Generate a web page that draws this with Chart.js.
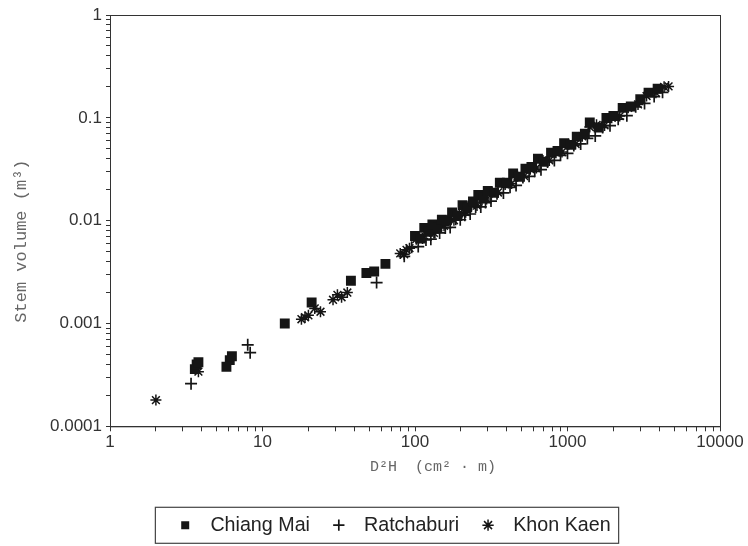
<!DOCTYPE html>
<html lang="en">
<head>
    <meta charset="UTF-8">
    <title>Stem volume vs D2H</title>
    <script src="https://cdn.jsdelivr.net/npm/chart.js"></script>
    <style>
        body {
            margin: 0;
            background-color: #fff;
        }
    </style>
</head>
<body>
    <canvas id="volChart" width="748" height="546"></canvas>
    <script>
        // values (D2H in cm2*m, volume in m3)
        const chiangMaiX = [3.6, 3.7, 3.8, 5.8, 6.1, 6.3, 14, 21, 38, 48, 54, 64,
            100, 108, 115, 122, 130, 140, 150, 162, 175, 190, 205, 220, 240, 260, 280, 300,
            330, 360, 400, 440, 480, 530, 580, 640, 700, 780, 860, 950, 1050, 1150, 1300,
            1400, 1600, 1800, 2000, 2300, 2600, 3000, 3400, 3900];
        const chiangMaiY = [0.00036, 0.0004, 0.00042, 0.00038, 0.00044, 0.00048, 0.001, 0.0016, 0.0026, 0.0031, 0.0032, 0.0038,
            0.0071, 0.0067, 0.0085, 0.0078, 0.0092, 0.0086, 0.0102, 0.0101, 0.0120, 0.0111, 0.0141, 0.0135, 0.0154, 0.0178, 0.0169, 0.0194,
            0.0187, 0.0234, 0.0234, 0.0287, 0.0267, 0.0320, 0.0332, 0.0400, 0.0374, 0.0458, 0.0477, 0.0565, 0.0546, 0.0657, 0.070,
            0.090, 0.0806, 0.0996, 0.104, 0.125, 0.129, 0.152, 0.176, 0.192];

        const ratchaburiX = [3.4, 8.0, 8.3, 56,
            85, 95, 105, 118, 127, 135, 145, 158, 170, 185, 198, 212, 230, 250, 270, 290, 315,
            345, 380, 420, 460, 510, 560, 610, 670, 740, 820, 900, 1000, 1100, 1220, 1350,
            1520, 1700, 1900, 2150, 2450, 2800, 3200, 3700, 4200];
        const ratchaburiY = [0.00026, 0.00062, 0.00052, 0.0025,
            0.0045, 0.0055, 0.0056, 0.0065, 0.0066, 0.0077, 0.0076, 0.0085, 0.0086, 0.0103, 0.0102, 0.0113, 0.0116, 0.0136, 0.0136, 0.0150, 0.0155,
            0.0183, 0.0186, 0.0211, 0.0220, 0.0263, 0.0270, 0.0302, 0.0313, 0.0372, 0.0385, 0.0432, 0.0452, 0.0538, 0.0557, 0.0630,
            0.0667, 0.0805, 0.0839, 0.097, 0.105, 0.128, 0.138, 0.161, 0.177];

        const khonKaenX = [2.0, 3.8, 18, 19, 20, 22, 24, 29, 31, 33, 36, 80, 85, 88,
            92, 102, 112, 125, 133, 142, 155, 166, 180, 195, 215, 235, 255, 275, 295, 320,
            350, 390, 430, 470, 520, 570, 625, 690, 760, 840, 920, 1020, 1130, 1250, 1400,
            1550, 1750, 1950, 2200, 2500, 2900, 3300, 3800, 4300, 4600];
        const khonKaenY = [0.00018, 0.00034, 0.0011, 0.00115, 0.0012, 0.0014, 0.0013, 0.0017, 0.0019, 0.0018, 0.002, 0.0048, 0.0047, 0.0052,
            0.0054, 0.0066, 0.0067, 0.0079, 0.0076, 0.0087, 0.0089, 0.0103, 0.0101, 0.0118, 0.0121, 0.0142, 0.0140, 0.0161, 0.0162, 0.0189,
            0.0188, 0.0225, 0.0230, 0.0270, 0.0271, 0.0317, 0.0325, 0.0385, 0.0385, 0.0458, 0.0465, 0.0553, 0.0557, 0.0662, 0.0813,
            0.0855, 0.0844, 0.100, 0.104, 0.125, 0.135, 0.163, 0.175, 0.200, 0.202];

        const seriesNames = ['Chiang Mai', 'Ratchaburi', 'Khon Kaen'];

        function toPoints(xs, ys) {
            return xs.map((x, i) => ({ x: x, y: ys[i] }));
        }

        // keep only 1..9 x 10^n ticks
        function decadeTicks(scale) {
            scale.ticks = scale.ticks.filter(t => {
                const m = t.value / Math.pow(10, Math.floor(Math.log10(t.value) + 1e-9));
                return Math.abs(m - Math.round(m)) < 1e-6;
            });
        }

        function powerLabel(value) {
            const l = Math.log10(value);
            if (Math.abs(l - Math.round(l)) < 1e-6) {
                return String(Number(value.toPrecision(6)));
            }
            return '';
        }

        // frame round the plot and box round the legend
        const framePlugin = {
            id: 'frame',
            afterLayout(chart) {
                // legend sits a little right of centre in the original
                chart.legend.left += 33;
                chart.legend.right += 33;
            },
            afterDraw(chart) {
                const ctx = chart.ctx;
                const a = chart.chartArea;
                ctx.save();
                ctx.strokeStyle = '#333';
                ctx.lineWidth = 1;
                ctx.strokeRect(a.left + 0.5, a.top + 0.5, a.right - a.left, a.bottom - a.top);

                const hb = chart.legend.legendHitBoxes;
                if (hb && hb.length) {
                    const first = hb[0];
                    const last = hb[hb.length - 1];
                    const left = first.left - 20;
                    const right = last.left + last.width + 8;
                    const top = first.top - 8;
                    ctx.strokeStyle = '#444';
                    ctx.lineWidth = 1.2;
                    ctx.strokeRect(left, top, right - left, 36);
                }
                ctx.restore();
            }
        };

        const dark = '#151515';
        const ctx = document.getElementById('volChart').getContext('2d');
        new Chart(ctx, {
            type: 'scatter',
            data: {
                datasets: [
                    {
                        label: seriesNames[0],
                        data: toPoints(chiangMaiX, chiangMaiY),
                        pointStyle: 'rect',
                        pointRadius: 7,
                        backgroundColor: dark,
                        borderColor: dark,
                        borderWidth: 0
                    },
                    {
                        label: seriesNames[1],
                        data: toPoints(ratchaburiX, ratchaburiY),
                        pointStyle: 'cross',
                        pointRadius: 6,
                        backgroundColor: dark,
                        borderColor: dark,
                        borderWidth: 1.7
                    },
                    {
                        label: seriesNames[2],
                        data: toPoints(khonKaenX, khonKaenY),
                        pointStyle: 'star',
                        pointRadius: 5.5,
                        backgroundColor: dark,
                        borderColor: dark,
                        borderWidth: 1.5
                    }
                ]
            },
            options: {
                responsive: false,
                animation: false,
                layout: {
                    padding: { top: 15, right: 28, bottom: 1, left: 0 }
                },
                scales: {
                    x: {
                        type: 'logarithmic',
                        min: 1,
                        max: 10000,
                        afterBuildTicks: decadeTicks,
                        afterFit(scale) { scale.height = 70; },
                        grid: { drawOnChartArea: false, tickLength: 5, color: '#333' },
                        border: { color: '#333' },
                        ticks: {
                            autoSkip: false,
                            maxRotation: 0,
                            padding: 1,
                            color: '#333',
                            font: { family: 'Liberation Sans', size: 17 },
                            callback: powerLabel
                        },
                        title: {
                            display: true,
                            text: '    D\u00b2H  (cm\u00b2 \u00b7 m)',
                            color: '#666',
                            font: { family: 'Liberation Mono', size: 15 },
                            padding: { top: 0, bottom: 20 }
                        }
                    },
                    y: {
                        type: 'logarithmic',
                        min: 0.0001,
                        max: 1,
                        afterBuildTicks: decadeTicks,
                        afterFit(scale) { scale.width = 110; },
                        grid: { drawOnChartArea: false, tickLength: 4, color: '#333' },
                        border: { color: '#333' },
                        ticks: {
                            autoSkip: false,
                            padding: 4,
                            color: '#333',
                            font: { family: 'Liberation Sans', size: 17 },
                            callback: powerLabel
                        },
                        title: {
                            display: true,
                            text: 'Stem volume (m\u00b3)    ',
                            color: '#666',
                            font: { family: 'Liberation Mono', size: 17 },
                            padding: { top: 11, bottom: 0 }
                        }
                    }
                },
                plugins: {
                    legend: {
                        position: 'bottom',
                        labels: {
                            usePointStyle: true,
                            boxHeight: 8,
                            padding: 19,
                            color: '#222',
                            font: { family: 'Liberation Sans', size: 19.7 },
                            generateLabels(chart) {
                                const items = Chart.defaults.plugins.legend.labels.generateLabels(chart);
                                return items.map(item => Object.assign(item, { text: ' ' + item.text }));
                            }
                        }
                    },
                    tooltip: { enabled: false }
                }
            },
            plugins: [framePlugin]
        });
    </script>
</body>
</html>
